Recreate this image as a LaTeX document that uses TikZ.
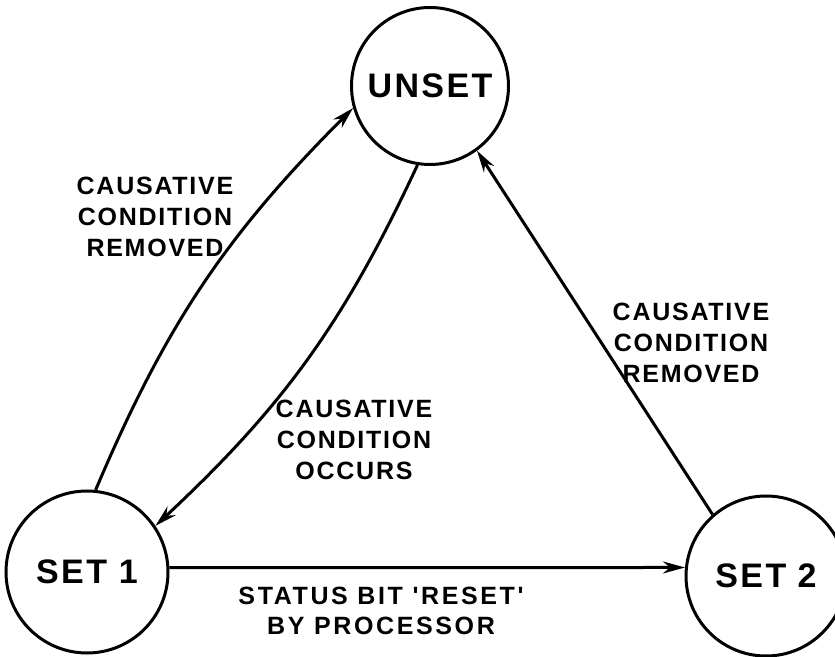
\documentclass[tikz,border=0pt]{standalone}
\usepackage{fontspec}
\newfontfamily\lettering[LetterSpace=7]{Liberation Sans Bold}
\newfontfamily\wideletter[LetterSpace=10.5]{Liberation Sans Bold}
\usetikzlibrary{arrows.meta}

\tikzset{
  state/.style={circle,draw,line width=3pt,minimum size=160pt,inner sep=0pt,
    font={\lettering\fontsize{34}{40}\selectfont}},
  note/.style={align=center,font={\lettering\fontsize{25}{31}\selectfont}},
}

\begin{document}
\begin{tikzpicture}[x=1pt,y=1pt,line width=3pt]
\useasboundingbox (0,0) rectangle (835,656);
\node[state,minimum size=157pt] (unset) at (430,570) {UNSET};
\node[state,minimum size=162pt] (set1) at (87,84) {SET 1};
\node[state] (set2) at (766,80) {SET\,\,2};
\draw[->,>={Stealth[length=22pt,width=12pt]}] (set1.84) to[bend left=11] (unset.196);
\draw[->,>={Stealth[length=22pt,width=12pt]}] (unset.261) to[bend left=11] (set1.34);
\draw[->,>={Stealth[length=22pt,width=12pt]}] (set2.131) -- (unset.-54);
\draw[->,>={Stealth[length=22pt,width=12pt]}] (set1.3) -- (set2.174);
\node[note] (removedA) at (155,439) {CAUSATIVE\\CONDITION\\REMOVED};
\node[note] (occurs) at (354,216) {CAUSATIVE\\CONDITION\\OCCURS};
\node[note] (removedB) at (691,313) {CAUSATIVE\\CONDITION\\REMOVED};
\node[note,font={\wideletter\fontsize{25}{30}\selectfont}] (reset) at (381,45)
  {STATUS BIT 'RESET'\\BY PROCESSOR};
\end{tikzpicture}
\end{document}
